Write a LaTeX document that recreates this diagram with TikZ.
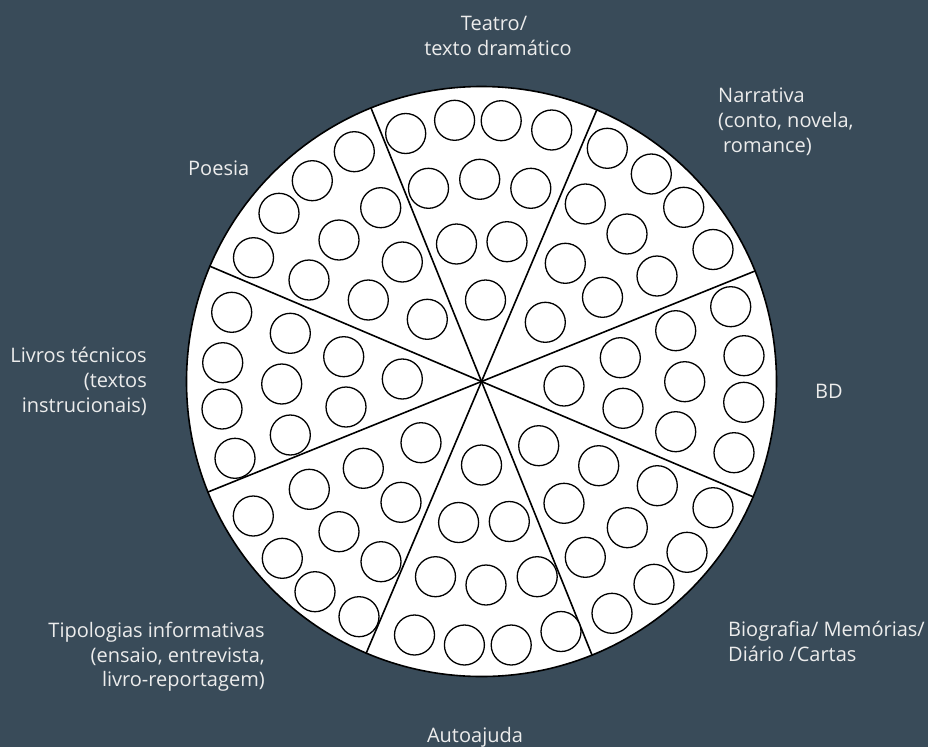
\documentclass[tikz,border=0pt]{standalone}
\usepackage{fontspec}
\setmainfont{Open Sans}
\definecolor{bg}{RGB}{57,75,89}
\definecolor{lbl}{RGB}{236,236,236}
\begin{document}
\begin{tikzpicture}[x=1pt,y=-1pt,
  dot/.style={circle,draw=black,fill=white,line width=1.3pt,minimum size=40pt,inner sep=0pt},
  disc/.style={circle,draw=black,fill=white,line width=1.6pt,minimum size=590pt,inner sep=0pt},
  divider/.style={draw=black,line width=1.6pt},
  lab/.style={text=lbl,inner sep=0pt,font=\fontsize{20}{24}\selectfont},
  ]
\fill[bg] (0,0) rectangle (928,747);
\useasboundingbox (0,0) rectangle (928,747);

\coordinate (c) at (481.5,381.5);
\node[disc] (big) at (c) {};
\foreach \a in {22.5,67.5,112.5,157.5,202.5,247.5,292.5,337.5}
  \draw[divider] (c) -- (big.\a);

% Teatro (top)
\foreach \n/\x/\y in {t1/405.7/133.5, t2/454.6/120.3, t3/501.2/120.7, t4/551.7/130,
  t5/428.5/188.3, t6/479.7/179.3, t7/530.8/188.3, t8/456.5/244, t9/507/241.7, t10/485.5/300}
  \node[dot] (\n) at (\x,\y) {};
% Narrativa (upper right)
\foreach \n/\x/\y in {n1/607.3/148.3, n2/651.3/174, n3/683.7/207.3, n4/713/249.5,
  n5/585.3/204, n6/627/234, n7/657/276, n8/565.3/263.3, n9/602.5/297.3, n10/545.3/322.3}
  \node[dot] (\n) at (\x,\y) {};
% BD (right)
\foreach \n/\x/\y in {b1/564/386, b2/620.3/357.7, b3/623/408.3, b4/675.7/330.7, b5/684.7/381.7,
  b6/675.7/431.7, b7/730.7/306.7, b8/744/355.7, b9/743.7/402.3, b10/734/452.7}
  \node[dot] (\n) at (\x,\y) {};
% Biografia (lower right)
\foreach \n/\x/\y in {g1/538.7/445.7, g2/598.7/465.7, g3/657.3/485.7, g4/713/507.7, g5/564/503.3,
  g6/627.3/527.7, g7/687/552.3, g8/585.3/557.3, g9/654/584.3, g10/612/613.3}
  \node[dot] (\n) at (\x,\y) {};
% Autoajuda (bottom)
\foreach \n/\x/\y in {a1/481.5/465, a2/458.6/522.5, a3/509.3/521.5, a4/435.5/576.7, a5/486/585,
  a6/537.2/576.7, a7/414.5/635, a8/464.4/645, a9/511.2/645, a10/561/631.5}
  \node[dot] (\n) at (\x,\y) {};
% Tipologias (lower left)
\foreach \n/\x/\y in {p1/421/442.7, p2/363.3/468.3, p3/309.3/489.3, p4/253.3/516, p5/401/502.3,
  p6/339/531.7, p7/282.3/558.3, p8/381/561.7, p9/315/591.7, p10/359/616.7}
  \node[dot] (\n) at (\x,\y) {};
% Livros tecnicos (left)
\foreach \n/\x/\y in {l1/231.7/312.3, l2/290.3/333.3, l3/343.7/356.7, l4/402.3/379, l5/222.7/362.7,
  l6/281.7/384, l7/346/407, l8/222/409, l9/290.3/435, l10/235/458.3}
  \node[dot] (\n) at (\x,\y) {};
% Poesia (upper left)
\foreach \n/\x/\y in {o1/354.3/151.7, o2/312.3/180.7, o3/279/213.3, o4/253.5/257.7, o5/380.7/207.7,
  o6/339/240, o7/309/280, o8/402.3/262, o9/368.3/300, o10/427.3/319.3}
  \node[dot] (\n) at (\x,\y) {};

% Labels
\node[lab,anchor=base] (teatro1) at (494,30) {Teatro/};
\node[lab,anchor=base] (teatro2) at (498,55) {texto dramático};
\node[lab,anchor=base west] (narr1) at (718,102) {Narrativa};
\node[lab,anchor=base west] (narr2) at (718,127) {(conto, novela,};
\node[lab,anchor=base west] (narr3) at (723,152) {romance)};
\node[lab,anchor=base west] (poesia) at (188,175) {Poesia};
\node[lab,anchor=base east] (livros1) at (147,362) {Livros técnicos};
\node[lab,anchor=base east] (livros2) at (147,387) {(textos};
\node[lab,anchor=base east] (livros3) at (147,412) {instrucionais)};
\node[lab,anchor=base] (bd) at (829,398) {BD};
\node[lab,anchor=base west] (bio1) at (728,636) {Biografia/ Memórias/};
\node[lab,anchor=base west] (bio2) at (728,661) {Diário /Cartas};
\node[lab,anchor=base east] (tipo1) at (265,637) {Tipologias informativas};
\node[lab,anchor=base east] (tipo2) at (265,662) {(ensaio, entrevista,};
\node[lab,anchor=base east] (tipo3) at (265,686) {livro-reportagem)};
\node[lab,anchor=base] (auto) at (475,742) {Autoajuda};
\end{tikzpicture}
\end{document}
